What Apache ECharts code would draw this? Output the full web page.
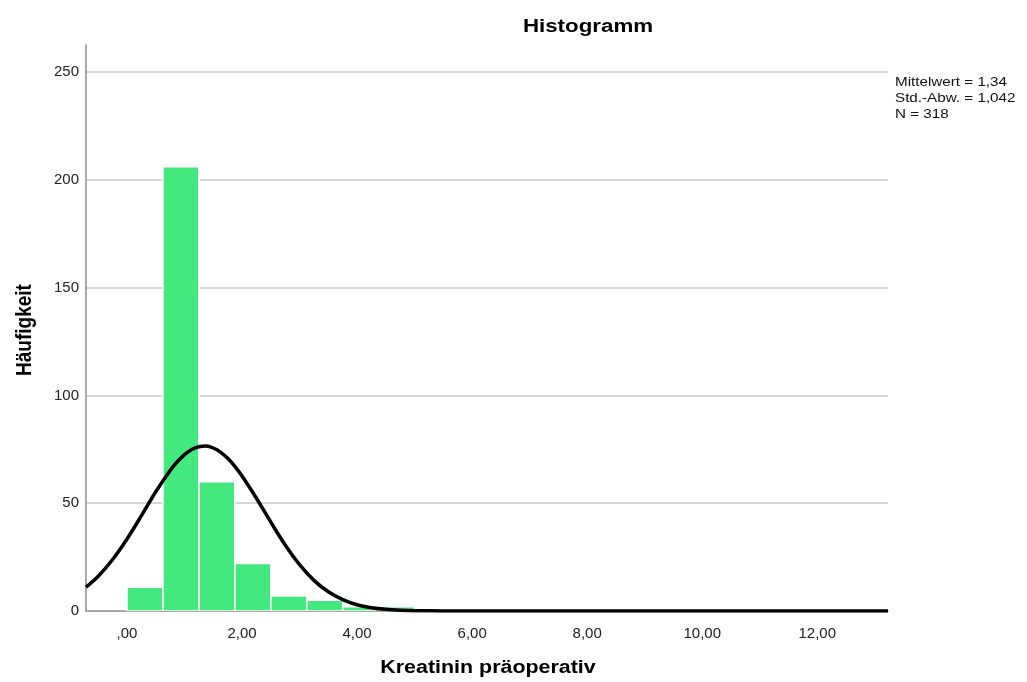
<!DOCTYPE html>
<html>
<head>
<meta charset="utf-8">
<script src="https://cdn.jsdelivr.net/npm/echarts@6/dist/echarts.min.js"></script>
<style>
html,body{margin:0;padding:0;background:#fff;}
#chart{width:1027px;height:682px;}
</style>
</head>
<body>
<div id="chart"></div>
<script>
// ---- data ----
var titleText = 'Histogramm';
var xName = 'Kreatinin präoperativ';
var yName = 'Häufigkeit';
var statsLines = ['Mittelwert = 1,34', 'Std.-Abw. = 1,042', 'N = 318'];

var binStart = 0;
var binWidth = 0.625;
var binCounts = [11, 206, 60, 22, 7, 5, 2, 2, 0, 0, 0, 1, 0, 0, 0, 0, 1, 0, 0, 1];

// normal curve (x value, frequency)
var curveX = [-0.713, -0.5, -0.25, 0, 0.25, 0.5, 0.75, 0.875, 1.0, 1.125, 1.25, 1.375, 1.5, 1.625, 1.75, 1.875, 2.0, 2.25, 2.5, 2.75, 3.0, 3.25, 3.5, 3.75, 4.0, 4.25, 4.5, 4.75, 5.0, 5.5, 6.0, 8.0, 10.0, 12.0, 13.23];
var curveY = [11.0, 16.1, 23.9, 33.4, 44.2, 55.3, 65.2, 69.2, 72.5, 74.9, 76.2, 76.5, 75.6, 73.7, 70.8, 67.1, 62.6, 52.3, 41.2, 30.6, 21.5, 14.2, 8.9, 5.3, 2.9, 1.55, 0.77, 0.36, 0.16, 0.03, 0, 0, 0, 0, 0];

var xTickValues = [0, 2, 4, 6, 8, 10, 12];
var xTickLabels = [',00', '2,00', '4,00', '6,00', '8,00', '10,00', '12,00'];
var yTickValues = [0, 50, 100, 150, 200, 250];
var yTickLabels = ['0', '50', '100', '150', '200', '250'];

var xMin = -0.713, xMax = 13.23;
var yMin = 0, yMax = 262.5;

// ---- build ----
var bars = binCounts.map(function (c, i) {
  return [binStart + i * binWidth, binStart + (i + 1) * binWidth, c];
});
var curve = curveX.map(function (x, i) { return [x, curveY[i]]; });

var FONT = '"Liberation Sans", Arial, sans-serif';
var chart = echarts.init(document.getElementById('chart'), null, {renderer: 'canvas'});

chart.setOption({
  animation: false,
  backgroundColor: '#ffffff',
  grid: {left: 86, right: 139, top: 45, bottom: 71, containLabel: false},
  xAxis: {
    type: 'value', min: xMin, max: xMax,
    axisLine: {show: true, onZero: false, lineStyle: {color: '#8c8c8c', width: 1.5}},
    axisTick: {show: false, customValues: xTickValues},
    splitLine: {show: false},
    axisLabel: {
      customValues: xTickValues,
      margin: 15,
      color: '#222', fontSize: 15, fontFamily: FONT,
      formatter: function (v) {
        var i = xTickValues.indexOf(v);
        return i >= 0 ? xTickLabels[i] : '';
      }
    }
  },
  yAxis: {
    type: 'value', min: yMin, max: yMax,
    axisLine: {show: true, onZero: false, lineStyle: {color: '#8c8c8c', width: 1.5}},
    axisTick: {show: false, customValues: yTickValues.slice(1)},
    splitLine: {show: true, lineStyle: {color: '#c8c8c8', width: 1.5}},
    axisLabel: {
      customValues: yTickValues,
      margin: 7,
      color: '#222', fontSize: 15, fontFamily: FONT,
      formatter: function (v) {
        var i = yTickValues.indexOf(v);
        return i >= 0 ? yTickLabels[i] : '';
      }
    }
  },
  series: [
    {
      type: 'custom',
      data: bars,
      encode: {x: [0, 1], y: 2},
      clip: true,
      renderItem: function (params, api) {
        var x0 = api.value(0), x1 = api.value(1), c = api.value(2);
        if (!c) return null;
        var p0 = api.coord([x0, c]);
        var p1 = api.coord([x1, 0]);
        return {
          type: 'rect',
          shape: {x: p0[0], y: p0[1], width: p1[0] - p0[0], height: p1[1] - p0[1]},
          style: {fill: '#43e87f', stroke: '#ffffff', lineWidth: 1.6}
        };
      },
      z: 2
    },
    {
      type: 'line',
      data: curve,
      smooth: 0.3,
      showSymbol: false,
      clip: true,
      lineStyle: {color: '#000000', width: 3.5},
      z: 3
    }
  ],
  graphic: [
    {
      type: 'text', x: 588, y: 27, scaleX: 1.24,
      style: {text: titleText, x: 0, y: 0, align: 'center', verticalAlign: 'middle',
        font: 'bold 18px ' + FONT, fill: '#000'}
    },
    {
      type: 'text', x: 488, y: 668, scaleX: 1.19,
      style: {text: xName, x: 0, y: 0, align: 'center', verticalAlign: 'middle',
        font: 'bold 18px ' + FONT, fill: '#000'}
    },
    {
      type: 'text', x: 25, y: 330, rotation: Math.PI / 2, scaleY: 1.15,
      style: {text: yName, x: 0, y: 0, align: 'center', verticalAlign: 'middle',
        font: 'bold 19px ' + FONT, fill: '#000'}
    },
    {
      type: 'text', x: 895, y: 74, scaleX: 1.17,
      style: {text: statsLines.join('\n'), x: 0, y: 0, align: 'left', verticalAlign: 'top',
        font: '13px ' + FONT, lineHeight: 16, fill: '#111'}
    }
  ]
});
</script>
</body>
</html>
